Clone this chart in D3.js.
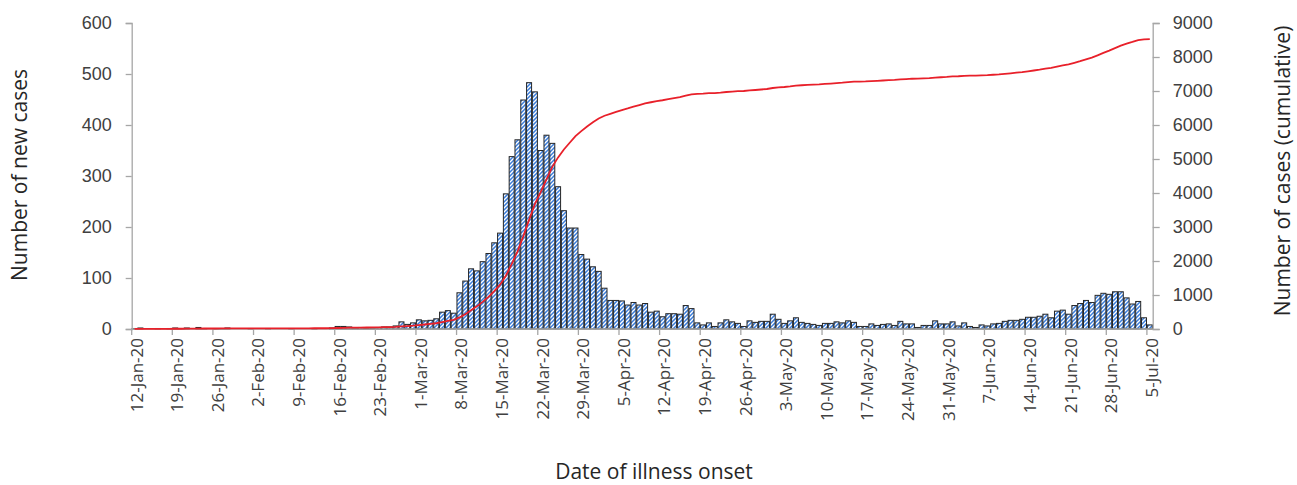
<!DOCTYPE html>
<html>
<head>
<meta charset="utf-8">
<script src="https://cdn.jsdelivr.net/npm/d3@7"></script>
<style>
  html, body { margin: 0; padding: 0; background: #fff; }
  svg { display: block; font-family: "Open Sans", "Noto Sans", sans-serif; }
</style>
</head>
<body>
<svg id="chart" width="1297" height="485"></svg>
<script>
// ---------------- DATA ----------------
const startDate = "2020-01-12";
const endDate = "2020-07-05";

// Daily number of new cases by date of illness onset (12-Jan-20 .. 5-Jul-20)
const newCases = [
  1, 2, 0, 0, 1, 0, 1, 2, 1, 2, 0, 3, 1, 0,          // 12-Jan .. 25-Jan
  1, 1, 2, 0, 0, 0, 1, 0, 0, 1, 0, 0, 0, 1,          // 26-Jan .. 8-Feb
  0, 0, 0, 1, 0, 0, 2, 5, 5, 4, 2, 3, 1, 2,          // 9-Feb .. 22-Feb
  3, 4, 4, 6, 14, 9, 12, 18, 16, 17, 20, 33, 36, 31, // 23-Feb .. 7-Mar
  71, 94, 118, 114, 132, 148, 169, 188, 265, 338, 371, 449, 483, 465, // 8-Mar .. 21-Mar
  350, 380, 364, 279, 232, 198, 198, 146, 137, 122, 113, 80, 56, 56,  // 22-Mar .. 4-Apr
  55, 47, 52, 47, 50, 33, 35, 24, 30, 30, 29, 46, 40, 12,             // 5-Apr .. 18-Apr
  8, 12, 5, 12, 18, 14, 11, 5, 16, 13, 15, 15, 29, 19,                // 19-Apr .. 2-May
  11, 16, 22, 13, 11, 9, 7, 11, 11, 14, 12, 16, 13, 5,                // 3-May .. 16-May
  5, 10, 7, 9, 10, 7, 15, 10, 10, 3, 7, 7, 16, 10,                    // 17-May .. 30-May
  10, 14, 6, 12, 5, 3, 8, 6, 10, 11, 15, 17, 17, 19,                  // 31-May .. 13-Jun
  23, 23, 25, 29, 22, 35, 37, 29, 46, 50, 56, 52, 66, 70,             // 14-Jun .. 27-Jun
  68, 73, 73, 61, 49, 54, 22, 8                                       // 28-Jun .. 5-Jul
];

const leftTicks = [0, 100, 200, 300, 400, 500, 600];
const rightTicks = [0, 1000, 2000, 3000, 4000, 5000, 6000, 7000, 8000, 9000];
const xTickLabels = [
  "12-Jan-20", "19-Jan-20", "26-Jan-20", "2-Feb-20", "9-Feb-20", "16-Feb-20",
  "23-Feb-20", "1-Mar-20", "8-Mar-20", "15-Mar-20", "22-Mar-20", "29-Mar-20",
  "5-Apr-20", "12-Apr-20", "19-Apr-20", "26-Apr-20", "3-May-20", "10-May-20",
  "17-May-20", "24-May-20", "31-May-20", "7-Jun-20", "14-Jun-20", "21-Jun-20",
  "28-Jun-20", "5-Jul-20"
];

const leftTitle = "Number of new cases";
const rightTitle = "Number of cases (cumulative)";
const xTitle = "Date of illness onset";

// ---------------- LAYOUT ----------------
const W = 1297, H = 485;
const X0 = 131.7, X1 = 1152.7, Y0 = 23, Y1 = 329;
const axisColor = "#a6a6a6";
const tickTextColor = "#404040";
const titleColor = "#262626";

const parse = d3.utcParse("%Y-%m-%d");
const days = d3.utcDay.range(parse(startDate), d3.utcDay.offset(parse(endDate), 1));
const fmt = d => `${d.getUTCDate()}-${d3.utcFormat("%b")(d)}-${d3.utcFormat("%y")(d)}`;

const data = days.map((d, i) => ({ date: d, key: fmt(d), value: newCases[i] }));
const cum = Array.from(d3.cumsum(data, d => d.value));

const svg = d3.select("#chart");
svg.append("rect").attr("width", W).attr("height", H).attr("fill", "#fff");

const defs = svg.append("defs");
const pat = defs.append("pattern")
  .attr("id", "hatch").attr("patternUnits", "userSpaceOnUse")
  .attr("width", 4).attr("height", 4);
pat.append("rect").attr("width", 4).attr("height", 4).attr("fill", "#3a7ddb");
pat.append("path").attr("d", "M-1,1 l2,-2 M0,4 l4,-4 M3,5 l2,-2")
  .attr("stroke", "#ffffff").attr("stroke-width", 1.3);

const x = d3.scaleBand().domain(data.map(d => d.key)).range([X0, X1]).padding(0);
const yL = d3.scaleLinear().domain([0, 600]).range([Y1, Y0]);
const yR = d3.scaleLinear().domain([0, 9000]).range([Y1, Y0]);
const bw = x.bandwidth();

// Bars
svg.append("g").selectAll("rect").data(data).join("rect")
  .attr("x", d => x(d.key) + 0.4)
  .attr("width", bw - 0.8)
  .attr("y", d => yL(d.value))
  .attr("height", d => yL(0) - yL(d.value))
  .attr("fill", "url(#hatch)")
  .attr("stroke", "#262626")
  .attr("stroke-width", 1);

// Left axis
const gL = svg.append("g").attr("transform", `translate(${X0},0)`)
  .call(d3.axisLeft(yL).tickValues(leftTicks).tickSize(6).tickPadding(14).tickFormat(d3.format("d")));
// Right axis
const gR = svg.append("g").attr("transform", `translate(${X1},0)`)
  .call(d3.axisRight(yR).tickValues(rightTicks).tickSize(7).tickPadding(13).tickFormat(d3.format("d")));

[gL, gR].forEach(g => {
  g.select(".domain").attr("stroke", axisColor).attr("stroke-width", 1.3);
  g.selectAll(".tick line").attr("stroke", axisColor).attr("stroke-width", 1.3);
  g.selectAll(".tick text").attr("fill", tickTextColor).attr("font-size", 18);
});

// Bottom axis: weekly ticks at category boundaries, labels at category centres
const labelSet = new Set(xTickLabels);
const gB = svg.append("g").attr("transform", `translate(0,${Y1})`);
gB.append("line").attr("x1", X0).attr("x2", X1).attr("y1", 0).attr("y2", 0)
  .attr("stroke", axisColor).attr("stroke-width", 1.3);
const tickDays = data.filter(d => labelSet.has(d.key));
gB.selectAll("line.tk").data(tickDays).join("line").attr("class", "tk")
  .attr("x1", d => x(d.key)).attr("x2", d => x(d.key))
  .attr("y1", 0).attr("y2", 6)
  .attr("stroke", axisColor).attr("stroke-width", 1.3);
gB.selectAll("text").data(tickDays).join("text")
  .attr("transform", d => `translate(${x(d.key) + bw / 2 + 2},9) rotate(-90)`)
  .attr("text-anchor", "end")
  .attr("dy", "0.35em")
  .attr("font-size", 17)
  .attr("fill", tickTextColor)
  .text(d => d.key);

// Cumulative line
const line = d3.line()
  .x((d, i) => x(data[i].key) + bw / 2)
  .y(d => yR(d));
svg.append("path").datum(cum)
  .attr("d", line)
  .attr("fill", "none")
  .attr("stroke", "#e8202a")
  .attr("stroke-width", 1.8);

// Titles
svg.append("text")
  .attr("transform", `translate(20,175) rotate(-90)`)
  .attr("text-anchor", "middle").attr("dy", "0.35em")
  .attr("font-size", 21).attr("fill", titleColor)
  .text(leftTitle);
svg.append("text")
  .attr("transform", `translate(1283,171) rotate(-90)`)
  .attr("text-anchor", "middle").attr("dy", "0.35em")
  .attr("font-size", 21).attr("fill", titleColor)
  .text(rightTitle);
svg.append("text")
  .attr("x", 654).attr("y", 479)
  .attr("text-anchor", "middle")
  .attr("font-size", 21).attr("fill", titleColor)
  .text(xTitle);
</script>
</body>
</html>
